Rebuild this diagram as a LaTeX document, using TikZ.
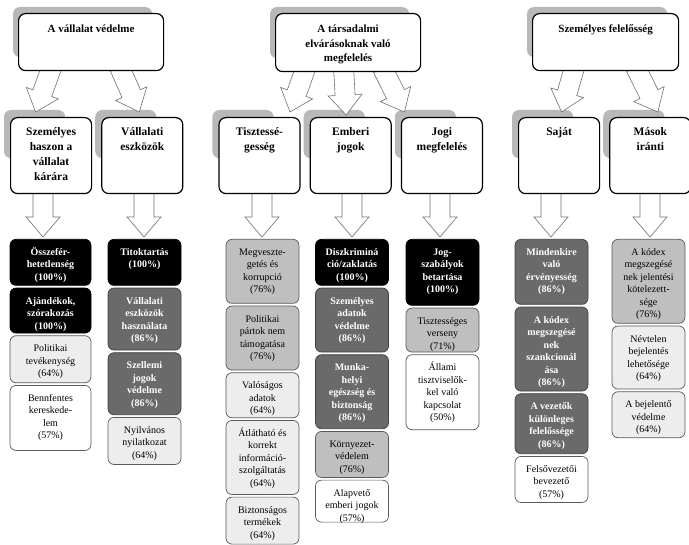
\documentclass[tikz,border=0pt]{standalone}
\usepackage{fontspec}
\setmainfont{Liberation Serif}
\usetikzlibrary{positioning,calc,backgrounds}

\definecolor{cDark}{HTML}{6A6A6A}
\definecolor{cMid}{HTML}{BFBFBF}
\definecolor{cLight}{HTML}{EDEDED}
\definecolor{cLine}{HTML}{595959}
\definecolor{cShadow}{HTML}{B8B8B8}
\definecolor{cArrow}{HTML}{707070}

% text block of fixed size, first baseline #3 below the top
\newcommand\boxtext[4]{\parbox[c][#2pt][t]{#1pt}{\centering\rule{0pt}{#3pt}#4}}

% hollow block arrow from #1 to #2
\newcommand\blockarr[2]{%
  \coordinate (hb) at ($(#2)!20pt!(#1)$);
  \draw[blockarrow] ($(#1)!10pt!90:(#2)$) -- ($(hb)!10pt!-90:(#1)$)
    -- ($(hb)!17pt!-90:(#1)$) -- (#2) -- ($(hb)!17pt!90:(#1)$)
    -- ($(hb)!10pt!90:(#1)$) -- ($(#1)!10pt!-90:(#2)$) -- cycle;}

\tikzset{
  headbox/.style={draw, line width=1.2pt, rounded corners=7pt, fill=white, inner sep=0pt,
    font=\fontsize{11}{14.5}\selectfont\bfseries},
  subbox/.style={headbox, font=\fontsize{11.5}{15}\selectfont\bfseries},
  itembox/.style={draw=cLine, line width=0.7pt, rounded corners=6pt, inner sep=0pt,
    font=\fontsize{10}{12.5}\selectfont},
  blackitem/.style={itembox, draw=black, fill=black, text=white,
    font=\fontsize{10}{12.5}\selectfont\bfseries},
  darkitem/.style={itembox, draw=black!75, fill=cDark, text=white,
    font=\fontsize{10}{12.5}\selectfont\bfseries},
  miditem/.style={itembox, fill=cMid},
  lightitem/.style={itembox, fill=cLight},
  whiteitem/.style={itembox, fill=white},
  shadowbox/.style={fill=cShadow, rounded corners=7pt},
  blockarrow/.style={draw=cArrow, fill=white, line width=0.6pt, line join=miter},
}

\begin{document}
\begin{tikzpicture}[x=1pt, y=-1pt]
\useasboundingbox (0,0) rectangle (689,545);

% main areas
\node[headbox, anchor=north west] (t1) at (18,13) {\boxtext{145}{57}{19}{A vállalat védelme}};
\node[headbox, anchor=north west] (t2) at (275,13) {\boxtext{145}{58}{19}{A társadalmi\\elvárásoknak való\\megfelelés}};
\node[headbox, anchor=north west] (t3) at (532,13) {\boxtext{146}{57}{19}{Személyes felelősség}};

% sub areas
\node[subbox, anchor=north west] (b1) at (10,117) {\boxtext{81}{76}{18}{Személyes\\haszon a\\vállalat\\kárára}};
\node[subbox, right=9pt of b1] (b2) {\boxtext{81}{76}{18}{Vállalati\\eszközök}};
\node[subbox, right=35pt of b2] (b3) {\boxtext{81}{76}{18}{Tisztessé-\\gesség}};
\node[subbox, right=9pt of b3] (b4) {\boxtext{81}{76}{18}{Emberi\\jogok}};
\node[subbox, right=9pt of b4] (b5) {\boxtext{81}{76}{18}{Jogi\\megfelelés}};
\node[subbox, right=35pt of b5] (b6) {\boxtext{81}{76}{18}{Saját}};
\node[subbox, right=9pt of b6] (b7) {\boxtext{81}{76}{18}{Mások\\iránti}};

% column 1
\node[blackitem, anchor=north] (c1a) at (50.5,239) {\boxtext{81}{46}{16}{Összefér-\\hetetlenség\\(100\%)}};
\node[blackitem, below=2pt of c1a] (c1b) {\boxtext{81}{45}{16}{Ajándékok,\\szórakozás\\(100\%)}};
\node[lightitem, below=2pt of c1b] (c1c) {\boxtext{81}{47}{16}{Politikai\\tevékenység\\(64\%)}};
\node[whiteitem, below=2pt of c1c] (c1d) {\boxtext{81}{65}{16}{Bennfentes\\kereskede-\\lem\\(57\%)}};

% column 2
\node[blackitem, anchor=north] (c2a) at (144.5,239) {\boxtext{73}{46}{16}{Titoktartás\\(100\%)}};
\node[darkitem, below=2pt of c2a] (c2b) {\boxtext{73}{62}{16}{Vállalati\\eszközök\\használata\\(86\%)}};
\node[darkitem, below=2pt of c2b] (c2c) {\boxtext{73}{62}{16}{Szellemi\\jogok\\védelme\\(86\%)}};
\node[lightitem, below=2pt of c2c] (c2d) {\boxtext{73}{47}{16}{Nyilvános\\nyilatkozat\\(64\%)}};

% column 3
\node[miditem, anchor=north] (c3a) at (262.5,239) {\boxtext{73}{64}{16}{Megveszte-\\getés és\\korrupció\\(76\%)}};
\node[miditem, below=2pt of c3a] (c3b) {\boxtext{73}{64}{16}{Politikai\\pártok nem\\támogatása\\(76\%)}};
\node[lightitem, below=2pt of c3b] (c3c) {\boxtext{73}{45}{16}{Valóságos\\adatok\\(64\%)}};
\node[lightitem, below=2pt of c3c] (c3d) {\boxtext{73}{74}{16}{Átlátható és\\korrekt\\információ-\\szolgáltatás\\(64\%)}};
\node[lightitem, below=2pt of c3d] (c3e) {\boxtext{73}{47}{16}{Biztonságos\\termékek\\(64\%)}};

% column 4
\node[blackitem, anchor=north] (c4a) at (352,239) {\boxtext{73}{46}{16}{Diszkriminá\\ció/zaklatás\\(100\%)}};
\node[darkitem, below=2pt of c4a] (c4b) {\boxtext{73}{64}{16}{Személyes\\adatok\\védelme\\(86\%)}};
\node[darkitem, below=2pt of c4b] (c4c) {\boxtext{73}{74}{16}{Munka-\\helyi\\egészség és\\biztonság\\(86\%)}};
\node[miditem, below=2pt of c4c] (c4d) {\boxtext{73}{46}{16}{Környezet-\\védelem\\(76\%)}};
\node[whiteitem, below=2pt of c4d] (c4e) {\boxtext{73}{42}{16}{Alapvető\\emberi jogok\\(57\%)}};

% column 5
\node[blackitem, anchor=north] (c5a) at (442.5,239) {\boxtext{73}{66}{16}{Jog-\\szabályok\\betartása\\(100\%)}};
\node[miditem, below=2pt of c5a] (c5b) {\boxtext{73}{44}{16}{Tisztességes\\verseny\\(71\%)}};
\node[whiteitem, below=2pt of c5b] (c5c) {\boxtext{73}{75}{16}{Állami\\tisztviselők-\\kel való\\kapcsolat\\(50\%)}};

% column 6
\node[darkitem, anchor=north] (c6a) at (551.5,239) {\boxtext{73}{65}{16}{Mindenkire\\való\\érvényesség\\(86\%)}};
\node[darkitem, below=2pt of c6a] (c6b) {\boxtext{73}{84}{16}{A kódex\\megszegésé\\nek\\szankcionál\\ása\\(86\%)}};
\node[darkitem, below=2pt of c6b] (c6c) {\boxtext{73}{60}{16}{A vezetők\\különleges\\felelőssége\\(86\%)}};
\node[whiteitem, below=2pt of c6c] (c6d) {\boxtext{73}{46}{16}{Felsővezetői\\bevezető\\(57\%)}};

% column 7
\node[miditem, anchor=north] (c7a) at (648.5,239) {\boxtext{73}{84}{16}{A kódex\\megszegésé\\nek jelentési\\kötelezett-\\sége\\(76\%)}};
\node[lightitem, below=2pt of c7a] (c7b) {\boxtext{73}{63}{16}{Névtelen\\bejelentés\\lehetősége\\(64\%)}};
\node[lightitem, below=2pt of c7b] (c7c) {\boxtext{73}{46}{16}{A bejelentő\\védelme\\(64\%)}};

\begin{scope}[on background layer]
  % shadows
  \foreach \n in {t1,t2,t3}
    \fill[shadowbox] ($(\n.north west)+(-5,-6)$) rectangle ($(\n.south east)+(-12,-14)$);
  \foreach \n in {b1,b2,b3,b4,b5,b6,b7}
    \fill[shadowbox] ($(\n.north west)+(-6,-7)$) rectangle ($(\n.south east)+(-27,-36)$);

  % arrows from the main areas
  \coordinate (t1a) at ($(t1.south)+(-39.5,-4)$);
  \coordinate (t1b) at ($(t1.south)+(28.5,-4)$);
  \coordinate (t2a) at ($(t2.south)+(-42.5,-4)$);
  \coordinate (t2b) at ($(t2.south)+(-4.5,-4)$);
  \coordinate (t2c) at ($(t2.south)+(34.5,-4)$);
  \coordinate (t3a) at ($(t3.south)+(-31,-4)$);
  \coordinate (t3b) at ($(t3.south)+(30,-4)$);
  \coordinate (b1t) at ($(b1.north)+(-15.5,-5)$);
  \coordinate (b2t) at ($(b2.north)+(-3,-5)$);
  \coordinate (b3t) at ($(b3.north)+(30.5,-5)$);
  \coordinate (b4t) at ($(b4.north)+(-4.5,-2)$);
  \coordinate (b5t) at ($(b5.north)+(-37.5,-5)$);
  \coordinate (b6t) at ($(b6.north)+(2.5,-5)$);
  \coordinate (b7t) at ($(b7.north)+(7.5,-5)$);
  \blockarr{t1a}{b1t}
  \blockarr{t1b}{b2t}
  \blockarr{t2a}{b3t}
  \blockarr{t2b}{b4t}
  \blockarr{t2c}{b5t}
  \blockarr{t3a}{b6t}
  \blockarr{t3b}{b7t}

  % arrows down to the items
  \foreach \i/\x in {1/43,2/144,3/262,4/352,5/440,6/551,7/650} {
    \coordinate (v\i s) at (\x,189);
    \coordinate (v\i t) at (\x,237);
    \blockarr{v\i s}{v\i t}
  }
\end{scope}
\end{tikzpicture}
\end{document}
